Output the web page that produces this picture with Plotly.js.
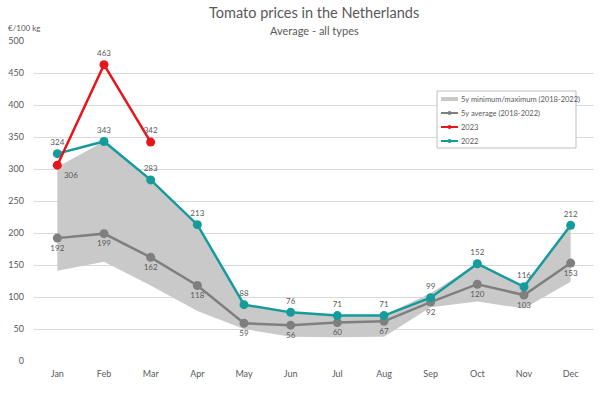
<!DOCTYPE html>
<html>
<head>
<meta charset="utf-8">
<script src="https://cdn.plot.ly/plotly-3.0.1.min.js"></script>
<style>html,body{margin:0;padding:0;background:#fff;}#chart{width:600px;height:393px;}</style>
</head>
<body>
<div id="chart"></div>
<script>
const months = ["Jan","Feb","Mar","Apr","May","Jun","Jul","Aug","Sep","Oct","Nov","Dec"];
const bandMin = [141, 155, 118, 78, 50, 38, 37, 38, 84, 93, 82, 124];
const bandMax = [303, 343, 283, 213, 88, 76, 71, 72, 106, 152, 116, 212];
const avg5y = [192, 199, 162, 118, 59, 56, 60, 62, 92, 120, 103, 153];
const avgLabels = ["192","199","162","118","59","56","60","67","92","120","103","153"];
const y2022 = [324, 343, 283, 213, 88, 76, 71, 71, 99, 152, 116, 212];
const y2023 = [306, 463, 342];
const months2023 = ["Jan","Feb","Mar"];
const yTicks = [0,50,100,150,200,250,300,350,400,450,500];
const legendNames = ["5y minimum/maximum (2018-2022)", "5y average (2018-2022)", "2023", "2022"];

const FONT = "Lato, 'Open Sans', sans-serif";
const TXT = "#595959";
const C_BAND = "#c9c9c9", C_AVG = "#7f7f7f", C_22 = "#169b9b", C_23 = "#e8141c";
const labelFont = {family: FONT, size: 8, color: TXT};

const M = {l: 34, r: 6, t: 41, b: 32};
const PW = 600 - M.l - M.r, PH = 393 - M.t - M.b;
const px = v => (v - M.l) / PW;
const py = v => (393 - M.b - v) / PH;

const traces = [
  {x: months, y: bandMin, type: "scatter", mode: "lines", line: {width: 0, color: C_BAND},
   showlegend: false, hoverinfo: "skip"},
  {x: months, y: bandMax, type: "scatter", mode: "lines", fill: "tonexty", fillcolor: C_BAND,
   line: {width: 0, color: C_BAND}, name: legendNames[0], showlegend: false},
  {x: months, y: avg5y, type: "scatter", mode: "lines+markers+text", text: avgLabels,
   textposition: "bottom center", textfont: labelFont,
   line: {color: C_AVG, width: 2.5}, marker: {color: C_AVG, size: 9},
   name: legendNames[1], showlegend: false},
  {x: months, y: y2022, type: "scatter", mode: "lines+markers+text", text: y2022.map(String),
   textposition: "top center", textfont: labelFont,
   line: {color: C_22, width: 2.5}, marker: {color: C_22, size: 9},
   name: legendNames[3], showlegend: false},
  {x: months2023, y: y2023, type: "scatter", mode: "lines+markers+text", text: y2023.map(String),
   textposition: ["bottom right","top center","top center"], textfont: labelFont,
   line: {color: C_23, width: 2.5}, marker: {color: C_23, size: 9},
   name: legendNames[2], showlegend: false}
];

// custom legend (box, swatches, labels)
const shapes = [
  {type: "rect", xref: "paper", yref: "paper", x0: px(437), x1: px(576), y0: py(91), y1: py(148),
   line: {color: "#bfbfbf", width: 1}, fillcolor: "#fff", layer: "above"}
];
const annotations = [];
const legendY = [99, 113, 127, 141];
const legendColors = [C_BAND, C_AVG, C_23, C_22];
legendY.forEach((yy, i) => {
  if (i === 0) {
    shapes.push({type: "rect", xref: "paper", yref: "paper", x0: px(441), x1: px(458), y0: py(yy - 2), y1: py(yy + 2),
      line: {width: 0}, fillcolor: C_BAND, layer: "above"});
  } else {
    shapes.push({type: "line", xref: "paper", yref: "paper", x0: px(441), x1: px(458), y0: py(yy), y1: py(yy),
      line: {color: legendColors[i], width: 2}, layer: "above"});
    shapes.push({type: "circle", xref: "paper", yref: "paper", x0: px(447.5), x1: px(451.5), y0: py(yy - 2), y1: py(yy + 2),
      line: {width: 0}, fillcolor: legendColors[i], layer: "above"});
  }
  annotations.push({text: legendNames[i], xref: "paper", yref: "paper", x: px(459), y: py(yy),
    xanchor: "left", yanchor: "middle", showarrow: false,
    font: {family: FONT, size: 7.5, color: TXT}});
});

annotations.push(
  {text: "Tomato prices in the Netherlands", xref: "paper", yref: "paper", x: 0.5, y: 1, yshift: 29,
   xanchor: "center", yanchor: "middle", showarrow: false,
   font: {family: FONT, size: 14.5, color: TXT}},
  {text: "Average - all types", xref: "paper", yref: "paper", x: 0.5, y: 1, yshift: 11,
   xanchor: "center", yanchor: "middle", showarrow: false,
   font: {family: FONT, size: 11, color: TXT}},
  {text: "€/100 kg", xref: "paper", yref: "paper", x: px(6), y: py(28),
   xanchor: "left", yanchor: "middle", showarrow: false,
   font: {family: FONT, size: 8, color: TXT}}
);

const layout = {
  width: 600, height: 393,
  margin: M,
  paper_bgcolor: "#fff", plot_bgcolor: "#fff",
  font: {family: FONT, color: TXT, size: 9},
  showlegend: false,
  xaxis: {type: "category", categoryorder: "array", categoryarray: months, automargin: false,
    range: [-0.5, months.length - 0.5],
    showgrid: false, zeroline: false, showline: false, ticks: "", ticklabelstandoff: 6,
    tickfont: {family: FONT, size: 9, color: TXT}},
  yaxis: {range: [0, 500], tickvals: yTicks, ticktext: yTicks.map(String), automargin: false,
    showgrid: true, gridcolor: "#d9d9d9", gridwidth: 1, zeroline: false, showline: false,
    ticks: "", ticklabelstandoff: 9,
    tickfont: {family: FONT, size: 9, color: TXT}},
  shapes: shapes,
  annotations: annotations
};

Plotly.newPlot("chart", traces, layout, {displayModeBar: false, staticPlot: true});
</script>
</body>
</html>
